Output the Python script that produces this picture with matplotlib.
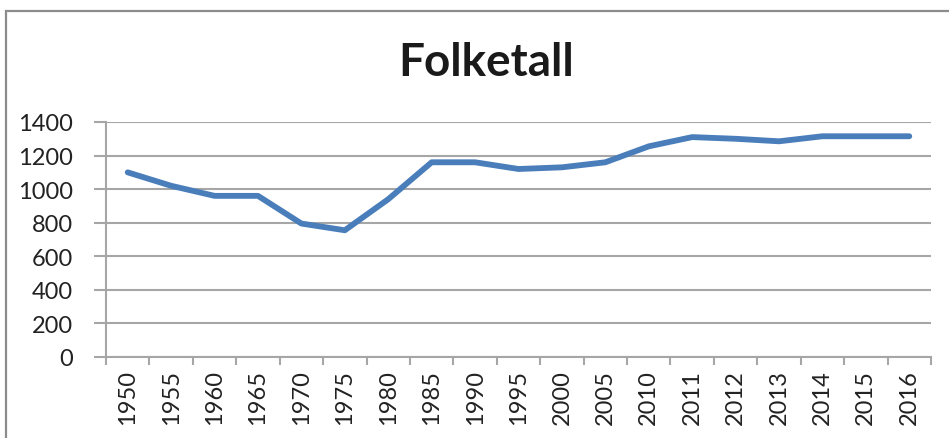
import numpy as np
import matplotlib
matplotlib.use("Agg")
import matplotlib.pyplot as plt
from matplotlib.patches import Rectangle

# data
years = ["1950", "1955", "1960", "1965", "1970", "1975", "1980", "1985", "1990", "1995",
         "2000", "2005", "2010", "2011", "2012", "2013", "2014", "2015", "2016"]
folketall = [1100, 1020, 960, 960, 795, 755, 940, 1160, 1160, 1120,
             1130, 1160, 1255, 1310, 1300, 1285, 1315, 1315, 1315]
yticks = [0, 200, 400, 600, 800, 1000, 1200, 1400]

plt.rcParams['font.family'] = ['Lato', 'DejaVu Sans']

W, H = 949, 439
fig = plt.figure(figsize=(W / 100, H / 100), dpi=100)

# chart frame (cut off at right/bottom)
fig.patches.append(Rectangle((6 / W, -0.1), 1.2, 1 - 12 / H + 0.1, transform=fig.transFigure,
                             fill=False, edgecolor="#8c8c8c", linewidth=1.6))

ax = fig.add_axes([106 / W, 1 - 358 / H, (931 - 106) / W, (358 - 123) / H])

grid_c = "#a6a6a6"
x = np.arange(len(years))
ax.plot(x, folketall, color="#4a7ebb", linewidth=4.2, solid_capstyle="round",
        solid_joinstyle="round", zorder=3)

ax.set_xlim(-0.5, len(years) - 0.5)
ax.set_ylim(0, 1400)
ax.set_yticks(yticks)
ax.yaxis.grid(True, color=grid_c, linewidth=1.5)
ax.set_axisbelow(True)

# category boundaries as tick marks, labels centered in each category
ax.set_xticks(np.arange(len(years) + 1) - 0.5)
ax.set_xticklabels([])
ax.set_xticks(x, minor=True)
ax.set_xticklabels(years, minor=True, rotation=90, fontsize=17, color="#222222")
ax.tick_params(axis="x", which="major", length=6, width=1.5, color=grid_c, direction="out")
ax.tick_params(axis="x", which="minor", length=0, pad=9)
ax.tick_params(axis="y", length=9, width=1.5, color=grid_c, labelsize=17,
               labelcolor="#222222", pad=15)

for s in ["top", "right"]:
    ax.spines[s].set_visible(False)
for s in ["left", "bottom"]:
    ax.spines[s].set_color(grid_c)
    ax.spines[s].set_linewidth(1.5)

fig.text(486 / W, 1 - 63 / H, "Folketall", ha="center", va="center",
         fontsize=33, fontweight="bold", color="#1a1a1a")

fig.savefig("out.png", dpi=100)
